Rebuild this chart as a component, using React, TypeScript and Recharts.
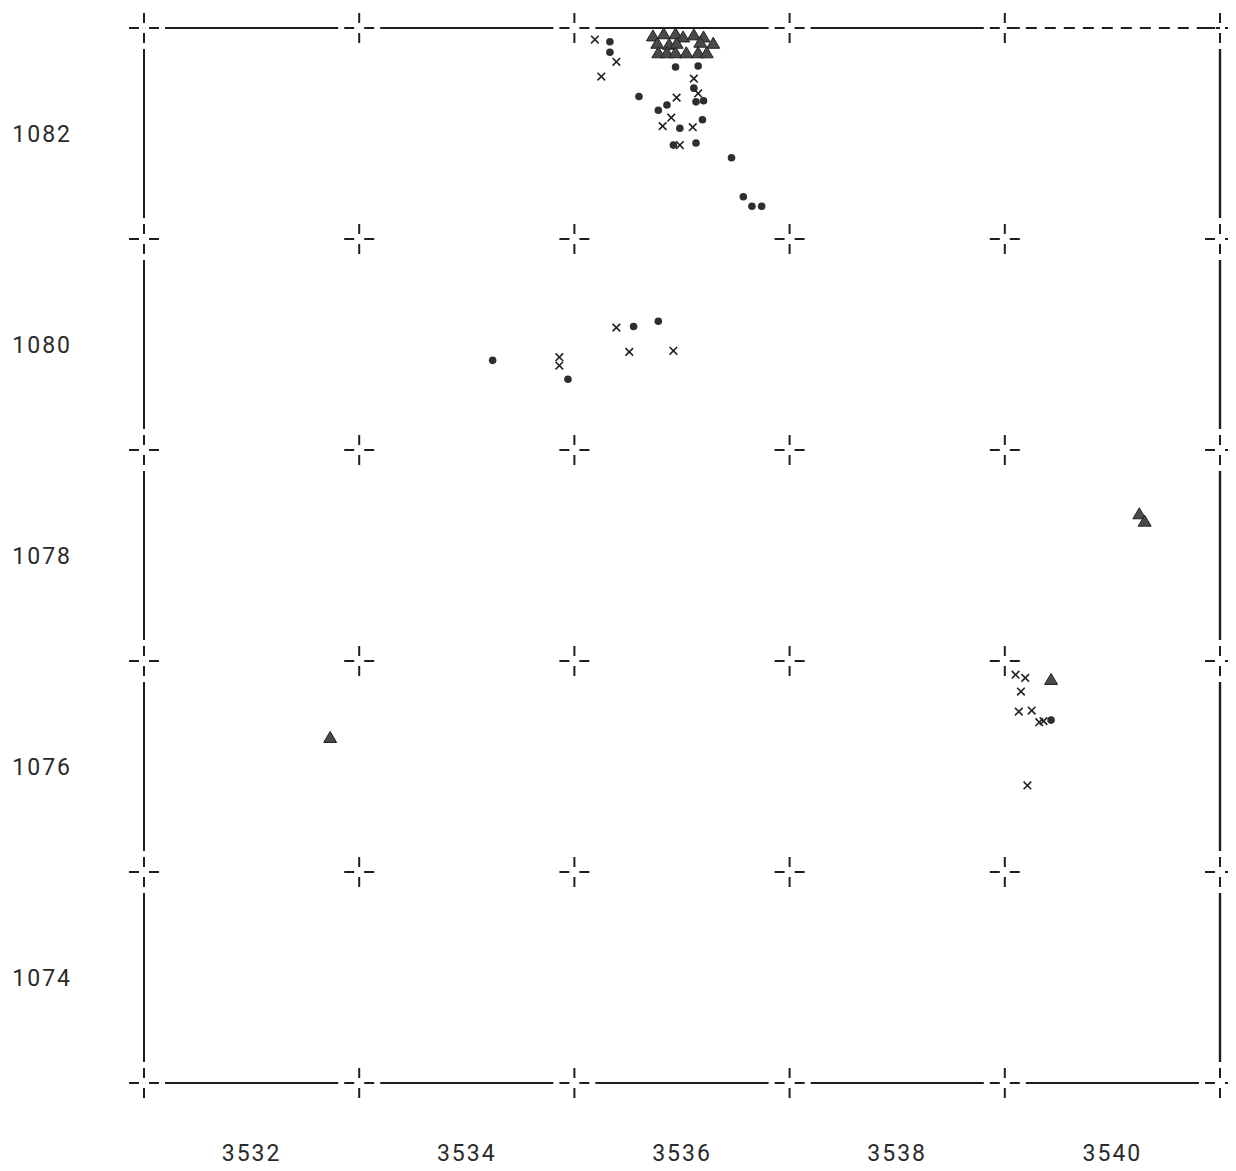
import React from "react";
import { ScatterChart, Scatter, XAxis, YAxis, ReferenceLine } from "recharts";

// Grid intersections (odd km values) and labelled values (even km values)
const GRID_X = [3531, 3533, 3535, 3537, 3539, 3541];
const GRID_Y = [1073, 1075, 1077, 1079, 1081, 1083];
const X_TICKS = [3532, 3534, 3536, 3538, 3540];
const Y_TICKS = [1074, 1076, 1078, 1080, 1082];

const triangles = [
  { x: 3535.73, y: 1082.93 }, { x: 3535.83, y: 1082.95 }, { x: 3535.94, y: 1082.95 },
  { x: 3536.01, y: 1082.92 }, { x: 3536.11, y: 1082.94 }, { x: 3536.2, y: 1082.92 },
  { x: 3535.77, y: 1082.86 }, { x: 3535.88, y: 1082.85 }, { x: 3535.95, y: 1082.86 },
  { x: 3536.17, y: 1082.87 }, { x: 3536.29, y: 1082.86 },
  { x: 3535.78, y: 1082.77 }, { x: 3535.86, y: 1082.77 }, { x: 3535.94, y: 1082.77 },
  { x: 3536.04, y: 1082.77 }, { x: 3536.15, y: 1082.77 }, { x: 3536.23, y: 1082.77 },
  { x: 3539.43, y: 1076.83 },
  { x: 3540.25, y: 1078.4 }, { x: 3540.3, y: 1078.33 },
  { x: 3532.73, y: 1076.28 },
];

const dots = [
  { x: 3535.33, y: 1082.87 }, { x: 3535.33, y: 1082.77 },
  { x: 3535.94, y: 1082.63 }, { x: 3536.15, y: 1082.64 },
  { x: 3536.11, y: 1082.43 }, { x: 3535.6, y: 1082.35 },
  { x: 3536.13, y: 1082.3 }, { x: 3536.2, y: 1082.31 },
  { x: 3535.86, y: 1082.27 }, { x: 3535.78, y: 1082.22 },
  { x: 3535.98, y: 1082.05 }, { x: 3536.19, y: 1082.13 },
  { x: 3535.92, y: 1081.89 }, { x: 3536.13, y: 1081.91 },
  { x: 3536.46, y: 1081.77 },
  { x: 3536.57, y: 1081.4 }, { x: 3536.65, y: 1081.31 }, { x: 3536.74, y: 1081.31 },
  { x: 3534.24, y: 1079.85 }, { x: 3534.94, y: 1079.67 },
  { x: 3535.55, y: 1080.17 }, { x: 3535.78, y: 1080.22 },
  { x: 3539.43, y: 1076.44 },
];

const crosses = [
  { x: 3535.19, y: 1082.89 }, { x: 3535.39, y: 1082.68 }, { x: 3535.25, y: 1082.54 },
  { x: 3536.11, y: 1082.52 }, { x: 3536.15, y: 1082.38 }, { x: 3535.95, y: 1082.34 },
  { x: 3535.9, y: 1082.15 }, { x: 3535.82, y: 1082.07 }, { x: 3536.1, y: 1082.06 },
  { x: 3535.98, y: 1081.89 },
  { x: 3534.86, y: 1079.88 }, { x: 3534.86, y: 1079.8 },
  { x: 3535.39, y: 1080.16 }, { x: 3535.51, y: 1079.93 }, { x: 3535.92, y: 1079.94 },
  { x: 3539.1, y: 1076.87 }, { x: 3539.19, y: 1076.84 }, { x: 3539.15, y: 1076.71 },
  { x: 3539.13, y: 1076.52 }, { x: 3539.25, y: 1076.53 },
  { x: 3539.32, y: 1076.42 }, { x: 3539.36, y: 1076.43 },
  { x: 3539.21, y: 1075.82 },
];

const gridPoints = GRID_X.flatMap((x) => GRID_Y.map((y) => ({ x, y })));

// layout
const W = 1228;
const H = 1163;
const M_TOP = 20;
const M_RIGHT = 16;
const Y_AXIS_W = 136;
const X_AXIS_H = 88;
const PLOT_W = W - M_RIGHT - Y_AXIS_W;
const PLOT_H = H - M_TOP - X_AXIS_H;
const SPAN_X = PLOT_W / (GRID_X.length - 1);
const SPAN_Y = PLOT_H / (GRID_Y.length - 1);
const GAP = 21;
const INK = "#1e1e1e";

const FONT = {
  fontFamily: "Roboto, 'DejaVu Sans', sans-serif",
  fontWeight: 400,
  fontSize: 23,
  letterSpacing: 2,
  fill: "#2a2a2a",
};

const GridCross = (p: any) => {
  const { cx, cy } = p;
  const a = 5;
  const b = 15;
  return (
    <g stroke={INK} strokeWidth={2}>
      <line x1={cx - b} y1={cy} x2={cx - a} y2={cy} />
      <line x1={cx + a} y1={cy} x2={cx + b} y2={cy} />
      <line x1={cx} y1={cy - b} x2={cx} y2={cy - a} />
      <line x1={cx} y1={cy + a} x2={cx} y2={cy + b} />
    </g>
  );
};

const Tri = (p: any) => {
  const { cx, cy } = p;
  const w = 6.5;
  const h = 11;
  return (
    <polygon
      points={`${cx},${cy - h / 2} ${cx + w},${cy + h / 2} ${cx - w},${cy + h / 2}`}
      fill="#4a4a4a"
      stroke="#222"
      strokeWidth={1}
      strokeLinejoin="round"
    />
  );
};

const Dot = (p: any) => {
  const { cx, cy } = p;
  return <circle cx={cx} cy={cy} r={3.8} fill="#2e2e2e" />;
};

const Cross = (p: any) => {
  const { cx, cy } = p;
  const s = 3.8;
  return (
    <g stroke="#222" strokeWidth={1.6}>
      <line x1={cx - s} y1={cy - s} x2={cx + s} y2={cy + s} />
      <line x1={cx - s} y1={cy + s} x2={cx + s} y2={cy - s} />
    </g>
  );
};

const XTick = (p: any) => (
  <text x={p.x} y={p.y} dy="0.71em" textAnchor="middle" {...FONT}>
    {p.payload.value}
  </text>
);

const YTick = (p: any) => (
  <text x={p.x} y={p.y} dy="0.355em" textAnchor="end" {...FONT}>
    {p.payload.value}
  </text>
);

export default function App() {
  const xMin = GRID_X[0];
  const xMax = GRID_X[GRID_X.length - 1];
  const yMin = GRID_Y[0];
  const yMax = GRID_Y[GRID_Y.length - 1];
  const vDash = `${SPAN_Y - 2 * GAP} ${2 * GAP}`;
  const hDash = `${SPAN_X - 2 * GAP} ${2 * GAP}`;
  return (
    <div style={{ width: W, height: H, background: "#fff" }}>
      <ScatterChart
        width={W}
        height={H}
        margin={{ top: M_TOP, right: M_RIGHT, bottom: 0, left: 0 }}
      >
        <XAxis
          type="number"
          dataKey="x"
          domain={[xMin, xMax]}
          ticks={X_TICKS}
          axisLine={false}
          tickLine={false}
          tickSize={0}
          tickMargin={62}
          height={X_AXIS_H}
          tick={XTick}
          interval={0}
        />
        <YAxis
          type="number"
          dataKey="y"
          domain={[yMin, yMax]}
          ticks={Y_TICKS}
          axisLine={false}
          tickLine={false}
          tickSize={0}
          tickMargin={72}
          width={Y_AXIS_W}
          tick={YTick}
          interval={0}
        />
        <ReferenceLine
          x={xMin}
          stroke={INK}
          strokeWidth={2}
          strokeDasharray={vDash}
          strokeDashoffset={-GAP}
        />
        <ReferenceLine
          x={xMax}
          stroke={INK}
          strokeWidth={2.4}
          strokeDasharray={vDash}
          strokeDashoffset={-GAP}
        />
        <ReferenceLine
          y={yMin}
          stroke={INK}
          strokeWidth={2}
          strokeDasharray={hDash}
          strokeDashoffset={-GAP}
        />
        <ReferenceLine
          segment={[
            { x: xMin, y: yMax },
            { x: GRID_X[GRID_X.length - 2], y: yMax },
          ]}
          stroke={INK}
          strokeWidth={2}
          strokeDasharray={hDash}
          strokeDashoffset={-GAP}
        />
        <ReferenceLine
          segment={[
            { x: GRID_X[GRID_X.length - 2], y: yMax },
            { x: xMax, y: yMax },
          ]}
          stroke={INK}
          strokeWidth={2}
          strokeDasharray="11 8"
          strokeDashoffset={-GAP}
        />
        <Scatter data={gridPoints} shape={GridCross} isAnimationActive={false} />
        <Scatter data={dots} shape={Dot} isAnimationActive={false} />
        <Scatter data={crosses} shape={Cross} isAnimationActive={false} />
        <Scatter data={triangles} shape={Tri} isAnimationActive={false} />
      </ScatterChart>
    </div>
  );
}
